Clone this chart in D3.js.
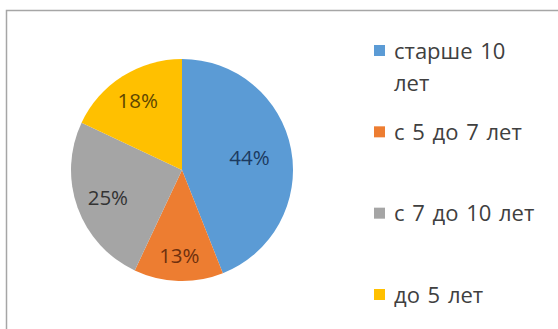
<!DOCTYPE html>
<html>
<head>
<meta charset="utf-8">
<script src="https://cdn.jsdelivr.net/npm/d3@7"></script>
<style>
  html, body { margin: 0; padding: 0; background: #fff; }
  svg { display: block; }
</style>
</head>
<body>
<svg id="chart" width="558" height="329"></svg>
<script>
// Age groups and their shares, in percent
const categories = ["старше 10 лет", "с 5 до 7 лет", "с 7 до 10 лет", "до 5 лет"];
const legendLines = [["старше 10", "лет"], ["с 5 до 7 лет"], ["с 7 до 10 лет"], ["до 5 лет"]];
const values = [44, 13, 25, 18];
const sliceColors = ["#5b9bd5", "#ed7d31", "#a5a5a5", "#ffc000"];
const labelColors = ["#1c3a60", "#6e300e", "#333333", "#5e4700"];

const svg = d3.select("#chart");
const W = 558, H = 329;
const font = "'Open Sans', Lato, sans-serif";

// chart frame (top and left edges visible)
svg.append("path")
  .attr("d", `M6.5,${H}V10.5H${W}`)
  .attr("fill", "none")
  .attr("stroke", "#a6a6a6")
  .attr("stroke-width", 1.5);

const cx = 182, cy = 170, r = 111;
const g = svg.append("g").attr("transform", `translate(${cx},${cy})`);

const pie = d3.pie().sort(null).value(d => d);
const arcs = pie(values);
const arc = d3.arc().innerRadius(0).outerRadius(r);

const color = d3.scaleOrdinal().domain(categories).range(sliceColors);

g.selectAll("path.slice")
  .data(arcs)
  .join("path")
  .attr("class", "slice")
  .attr("d", arc)
  .attr("fill", (d, i) => color(categories[i]))
  .attr("stroke", "none");

// percentage labels inside the slices; narrow slices push the label
// a little further out so it sits in the wider part of the wedge
const total = d3.sum(values);
g.selectAll("text.pct")
  .data(arcs)
  .join("text")
  .attr("class", "pct")
  .attr("transform", d => {
    const share = d.value / total;
    const rr = r * (0.83 - 0.48 * share);
    const a = (d.startAngle + d.endAngle) / 2;
    return `translate(${rr * Math.sin(a)},${-rr * Math.cos(a)})`;
  })
  .attr("text-anchor", "middle")
  .attr("dominant-baseline", "central")
  .attr("font-family", font)
  .attr("font-size", 20.5)
  .attr("fill", (d, i) => labelColors[i])
  .text(d => d.value + "%");

// legend, entries evenly spaced down the right side
const ly = d3.scalePoint().domain(categories).range([51, 295]);
const legend = svg.append("g")
  .selectAll("g")
  .data(categories)
  .join("g")
  .attr("transform", d => `translate(374,${ly(d)})`);

legend.append("rect")
  .attr("x", 0).attr("y", -6)
  .attr("width", 11).attr("height", 11)
  .attr("fill", d => color(d));

legend.append("text")
  .attr("x", 20)
  .attr("font-family", font)
  .attr("font-size", 22)
  .attr("word-spacing", 2)
  .attr("fill", "#404040")
  .selectAll("tspan")
  .data((d, i) => legendLines[i])
  .join("tspan")
  .attr("x", 20)
  .attr("dy", (d, i) => i === 0 ? "0.35em" : 32)
  .text(d => d);
</script>
</body>
</html>
